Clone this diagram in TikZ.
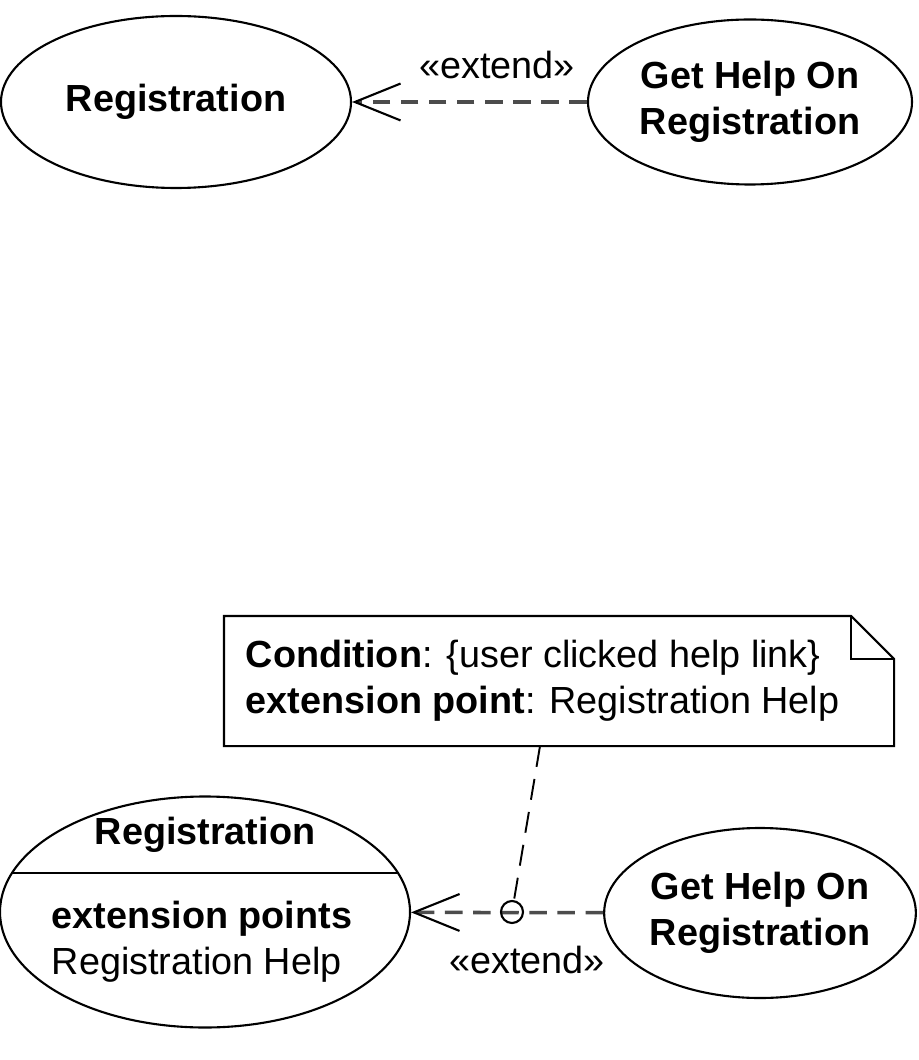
\documentclass[tikz,border=0pt]{standalone}
\usepackage{fontspec}
\setmainfont{Liberation Sans}
\usetikzlibrary{arrows.meta,positioning,calc,shapes.geometric}

\begin{document}
\begin{tikzpicture}[>={Straight Barb[length=26pt,width=21pt,line width=1.2pt,color=black]},font=\fontsize{21.5}{26}\selectfont,line width=1.2pt]
\tikzstyle{uc}=[draw,ellipse,inner sep=0pt,align=center,font=\fontsize{21.5}{26}\selectfont\bfseries]
\tikzstyle{ext}=[dash pattern=on 10pt off 6pt,line width=2pt,draw=black!70,->]
\useasboundingbox (0,0) rectangle (18.36,-21.2);
% simple form
\node[uc,minimum width=7cm,minimum height=3.44cm] (rega) at (3.52,-2.04) {Registration};
\node[uc,minimum width=6.48cm,minimum height=3.3cm] (helpa) at (15,-2.04) {Get Help On\\ Registration};
\draw[ext] (helpa) -- (rega);
\node (exta) at (9.94,-1.3) {«extend»};
% with condition and extension point
\node[minimum width=13.36cm,minimum height=2.56cm] (note) at (11.18,-13.62) {};
\node[align=left,anchor=west] (notetxt) at ([xshift=0.3cm]note.west) {\textbf{Condition}: \{user clicked help link\}\\ \textbf{extension point}: Registration Help};
\draw (note.north west) -- ([xshift=-0.86cm]note.north east) -- ([yshift=-0.86cm]note.north east) -- (note.south east) -- (note.south west) -- cycle;
\draw ([xshift=-0.86cm]note.north east) -- ([xshift=-0.86cm,yshift=-0.86cm]note.north east) -- ([yshift=-0.86cm]note.north east);
\node[uc,minimum width=8.2cm,minimum height=4.62cm] (regb) at (4.1,-18.24) {};
\draw[line width=1.5pt] ($(regb.center)+(-3.86,0.78)$) -- ($(regb.center)+(3.86,0.78)$);
\node[font=\fontsize{21.5}{26}\selectfont\bfseries] (regbtitle) at (4.1,-16.7) {Registration};
\node[align=left,anchor=west] (regbpts) at (0.9,-18.84) {\textbf{extension points}\\ Registration Help};
\node[uc,minimum width=6.1cm,minimum height=3.4cm] (helpb) at (15.2,-18.26) {Get Help On\\ Registration};
\draw[ext] (helpb) -- (regb);
\node[draw,circle,minimum size=0.44cm,inner sep=0pt] (cond) at (10.24,-18.24) {};
\draw[dash pattern=on 12pt off 7pt,line width=1.1pt] ([xshift=-0.38cm]note.south) -- (cond);
\node (extb) at (10.54,-19.2) {«extend»};
\end{tikzpicture}
\end{document}
